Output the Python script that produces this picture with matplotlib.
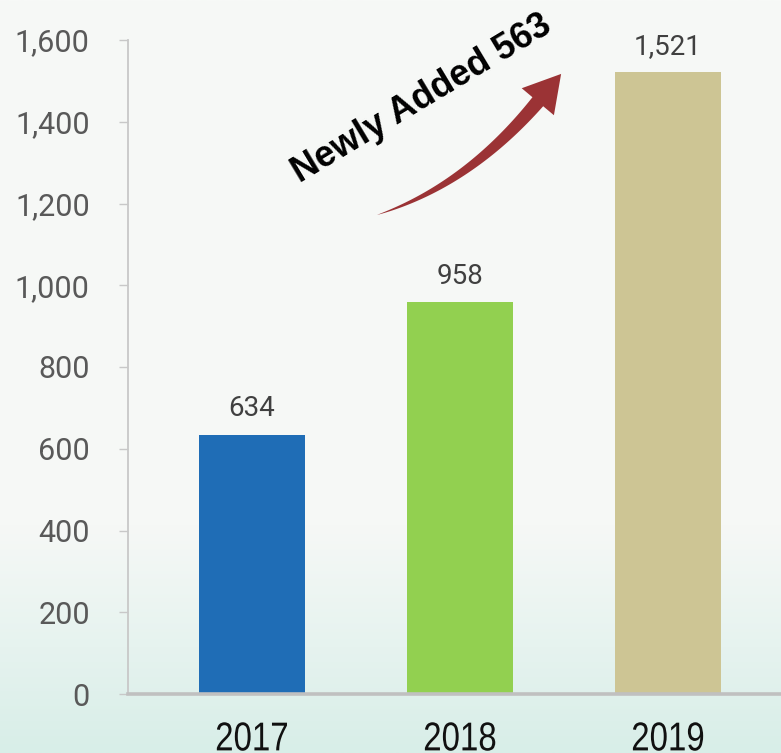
import numpy as np
import matplotlib
matplotlib.use("Agg")
import matplotlib.pyplot as plt
from matplotlib.patches import Polygon
from matplotlib.colors import LinearSegmentedColormap
from matplotlib.patheffects import AbstractPathEffect
from matplotlib.transforms import Affine2D

# Data
years = ["2017", "2018", "2019"]
counts = [634, 958, 1521]
bar_colors = ["#1F6DB6", "#92D050", "#CDC594"]
y_ticks = [0, 200, 400, 600, 800, 1000, 1200, 1400, 1600]
added = counts[-1] - counts[-2]

W, H = 781, 753
fig = plt.figure(figsize=(W / 100, H / 100), dpi=100)


class HSqueeze(AbstractPathEffect):
    """Draw text narrower (condensed look) around its own horizontal centre."""

    def __init__(self, sx):
        super().__init__()
        self.sx = sx

    def draw_path(self, renderer, gc, tpath, affine, rgbFace=None):
        ext = tpath.get_extents(affine)
        cx = 0.5 * (ext.x0 + ext.x1)
        aff = affine + Affine2D().translate(-cx, 0).scale(self.sx, 1).translate(cx, 0)
        renderer.draw_path(gc, tpath, aff, rgbFace)


# Soft vertical background wash (light at top, mint towards the bottom)
bg = fig.add_axes([0, 0, 1, 1], zorder=-5)
bg.set_axis_off()
grad_cmap = LinearSegmentedColormap.from_list(
    "wash",
    [(0.0, "#F7F9F7"), (0.70, "#F6F8F6"), (0.86, "#E6F3EF"), (1.0, "#D8EEE8")],
)
g = np.linspace(0, 1, 256).reshape(-1, 1)
bg.imshow(g, aspect="auto", cmap=grad_cmap, extent=[0, 1, 0, 1], origin="upper")

# Main axes
left_px, zero_px, top_px = 128, 694, 40
ax = fig.add_axes([left_px / W, (H - zero_px) / H, 1 - left_px / W, (zero_px - top_px) / H])
ax.set_facecolor("none")

x = np.arange(len(years))
bars = ax.bar(x, counts, width=0.51, color=bar_colors, zorder=3)

ax.set_xlim(-0.596, 2.543)
ax.set_ylim(0, 1600)
ax.set_yticks(y_ticks)
ax.set_yticklabels([f"{v:,}" for v in y_ticks])
ax.set_xticks(x)
ax.set_xticklabels(years)

for s in ("top", "right"):
    ax.spines[s].set_visible(False)
ax.spines["left"].set_color("#C8C8C8")
ax.spines["left"].set_linewidth(1.3)
ax.spines["bottom"].set_color("#C0C0C0")
ax.spines["bottom"].set_linewidth(2.6)
ax.spines["bottom"].set_zorder(4)

ax.tick_params(axis="y", length=6.5, width=1.0, color="#C8C8C8", pad=21,
               labelsize=22, labelcolor="#595959")
for lab in ax.get_yticklabels():
    lab.set_fontfamily(["Roboto", "DejaVu Sans"])
ax.tick_params(axis="x", length=0, pad=19, labelsize=29, labelcolor="#111111")
for lab in ax.get_xticklabels():
    lab.set_fontfamily(["Liberation Sans", "DejaVu Sans"])
    lab.set_path_effects([HSqueeze(0.82)])

# Value labels above the bars
for xi, v in zip(x, counts):
    ax.annotate(f"{v:,}", (xi, v), xytext=(0, 13.5), textcoords="offset points",
                ha="center", va="baseline", fontsize=20, color="#404040",
                family=["Roboto", "DejaVu Sans"])


def tapered_arrow(ax, p0, p1, p2, tip, body_w, head_hw, color):
    """Curved arrow: quadratic body tapering from a point to body_w px, then a head."""
    tr = ax.transData
    P0, P1, P2, T = (np.array(tr.transform(p)) for p in (p0, p1, p2, tip))
    t = np.linspace(0, 1, 120)[:, None]
    pts = (1 - t) ** 2 * P0 + 2 * (1 - t) * t * P1 + t ** 2 * P2
    d = 2 * (1 - t) * (P1 - P0) + 2 * t * (P2 - P1)
    d /= np.linalg.norm(d, axis=1, keepdims=True)
    n = np.column_stack([-d[:, 1], d[:, 0]])
    w = 0.5 * body_w * t[:, 0] ** 0.85
    side_a = pts + n * w[:, None]
    side_b = pts - n * w[:, None]
    ax_dir = (T - P2) / np.linalg.norm(T - P2)
    hn = np.array([-ax_dir[1], ax_dir[0]])
    head = [P2 + hn * head_hw, T, P2 - hn * head_hw]
    outline = np.vstack([side_a, [P2 + hn * 0.5 * body_w], head,
                         [P2 - hn * 0.5 * body_w], side_b[::-1]])
    poly = Polygon(outline, closed=True, transform=None, facecolor=color,
                   edgecolor="none", zorder=5)
    ax.add_artist(poly)


# Growth arrow rising from beside the 2018 label towards the 2019 bar
fig.canvas.draw()
tapered_arrow(ax, (0.601, 1172), (1.036, 1244), (1.374, 1449), (1.486, 1517),
              body_w=14, head_hw=21, color="#9B3335")

ax.text(0.815, 1457, f"Newly Added {added}", rotation=31, rotation_mode="anchor",
        ha="center", va="center", fontsize=26, fontweight="bold", color="black",
        family=["Liberation Sans", "DejaVu Sans"], zorder=6)

fig.savefig("out.png", dpi=100)
